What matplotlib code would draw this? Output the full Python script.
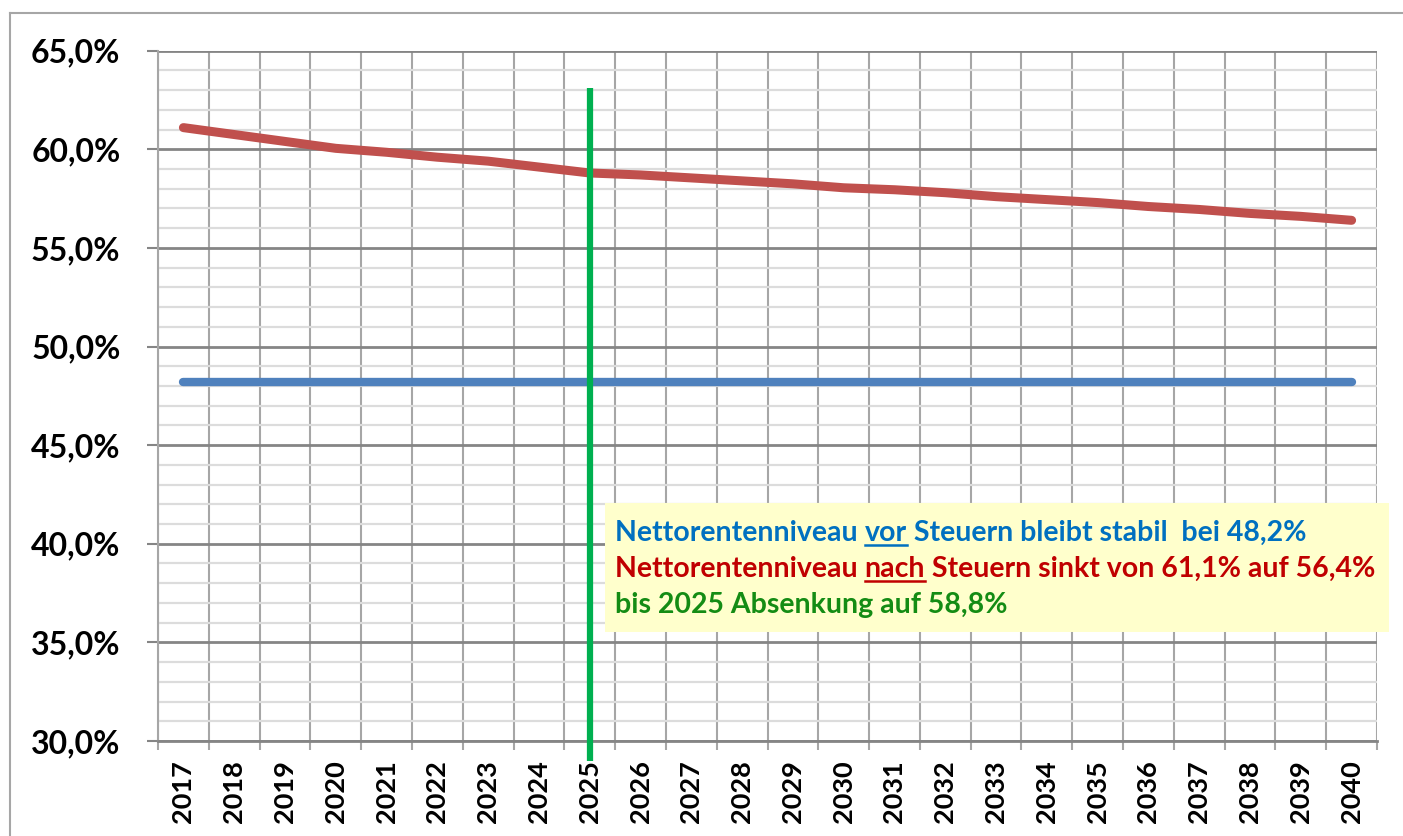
import matplotlib
matplotlib.use("Agg")
import matplotlib.pyplot as plt
from matplotlib.lines import Line2D
from matplotlib.patches import Rectangle
import numpy as np

years = [str(y) for y in range(2017, 2041)]
nach_steuern = [61.1, 60.75, 60.4, 60.05, 59.85, 59.6, 59.4, 59.1, 58.8, 58.7,
                58.55, 58.4, 58.25, 58.05, 57.95, 57.8, 57.6, 57.45, 57.3, 57.1,
                56.95, 56.75, 56.6, 56.4]
vor_steuern = [48.2] * 24
marker_year = "2025"
marker_range = [29.0, 63.1]
y_ticks = [30, 35, 40, 45, 50, 55, 60, 65]

FONT = "Lato"
W, H = 1403, 836
fig = plt.figure(figsize=(W / 100, H / 100), dpi=100)
ax = fig.add_axes([158 / W, 1 - 741 / H, (1377 - 158) / W, (741 - 50.7) / H])

x = np.arange(len(years))
ax.set_xlim(-0.5, len(years) - 0.5)
ax.set_ylim(30, 65)

# grid
ax.set_yticks(y_ticks)
ax.set_yticks(np.arange(30, 66, 1), minor=True)
ax.set_xticks(x)
ax.set_xticks(np.arange(-0.5, len(years), 1), minor=True)
ax.grid(True, which="minor", axis="y", color="#DCDCDC", lw=1.6, zorder=0)
ax.grid(True, which="major", axis="y", color="#858585", lw=2.0, zorder=0.5)
ax.grid(True, which="minor", axis="x", color="#A6A6A6", lw=1.5, zorder=0.4)
ax.grid(False, which="major", axis="x")

for s in ["top", "right"]:
    ax.spines[s].set_visible(False)
ax.spines["left"].set_color("#A6A6A6")
ax.spines["left"].set_linewidth(1.5)
ax.spines["bottom"].set_color("#858585")
ax.spines["bottom"].set_linewidth(2.0)

ax.set_yticklabels([f"{v:.1f}%".replace(".", ",") for v in y_ticks],
                   fontfamily=FONT, fontweight="bold", fontsize=23)
ax.tick_params(axis="y", which="major", length=8, width=1.5, color="#858585", pad=19)
ax.tick_params(axis="y", which="minor", length=0)
ax.set_xticklabels(years, rotation=90, fontfamily=FONT, fontweight="bold", fontsize=19.5)
ax.tick_params(axis="x", which="major", length=0, pad=14)
ax.tick_params(axis="x", which="minor", length=6.5, width=1.5, color="#A6A6A6")

ax.plot(x, vor_steuern, color="#4F81BD", lw=6.0, solid_capstyle="round", zorder=3)
ax.plot(x, nach_steuern, color="#C0504D", lw=6.5, solid_capstyle="round", zorder=3)
xm = years.index(marker_year)
ax.plot([xm, xm], marker_range, color="#00B050", lw=4.5, solid_capstyle="butt",
        zorder=4, clip_on=False)

# figure border (top and left edges)
fig.add_artist(Line2D([10 / W, 1], [1 - 13 / H, 1 - 13 / H], color="#A6A6A6", lw=1.5,
                      transform=fig.transFigure))
fig.add_artist(Line2D([10 / W, 10 / W], [0, 1 - 13 / H], color="#A6A6A6", lw=1.5,
                      transform=fig.transFigure))

# annotation box
fig.add_artist(Rectangle((605 / W, 1 - 632 / H), (1389 - 605) / W, (632 - 503) / H,
                         transform=fig.transFigure, facecolor="#FFFFCC",
                         edgecolor="none", zorder=5))

blue, red, green = "#0070C0", "#C00000", "#148C14"
lines = [
    [("Nettorentenniveau ", blue, False), ("vor", blue, True),
     (" Steuern bleibt stabil  bei 48,2%", blue, False)],
    [("Nettorentenniveau ", red, False), ("nach", red, True),
     (" Steuern sinkt von 61,1% auf 56,4%", red, False)],
    [("bis 2025 Absenkung auf 58,8%", green, False)],
]
baselines = [541, 577, 613]
fs = 20.5
renderer = fig.canvas.get_renderer()
for segs, yb in zip(lines, baselines):
    xc = 615
    for txt, col, ul in segs:
        t = fig.text(xc / W, 1 - yb / H, txt, color=col, fontfamily=FONT,
                     fontweight="bold", fontsize=fs, va="baseline", ha="left", zorder=6)
        bb = t.get_window_extent(renderer=renderer)
        if ul:
            fig.add_artist(Line2D([xc / W, (xc + bb.width) / W],
                                  [1 - (yb + 4) / H, 1 - (yb + 4) / H],
                                  color=col, lw=1.8, transform=fig.transFigure, zorder=6))
        xc += bb.width

fig.savefig("out.png", dpi=100)
